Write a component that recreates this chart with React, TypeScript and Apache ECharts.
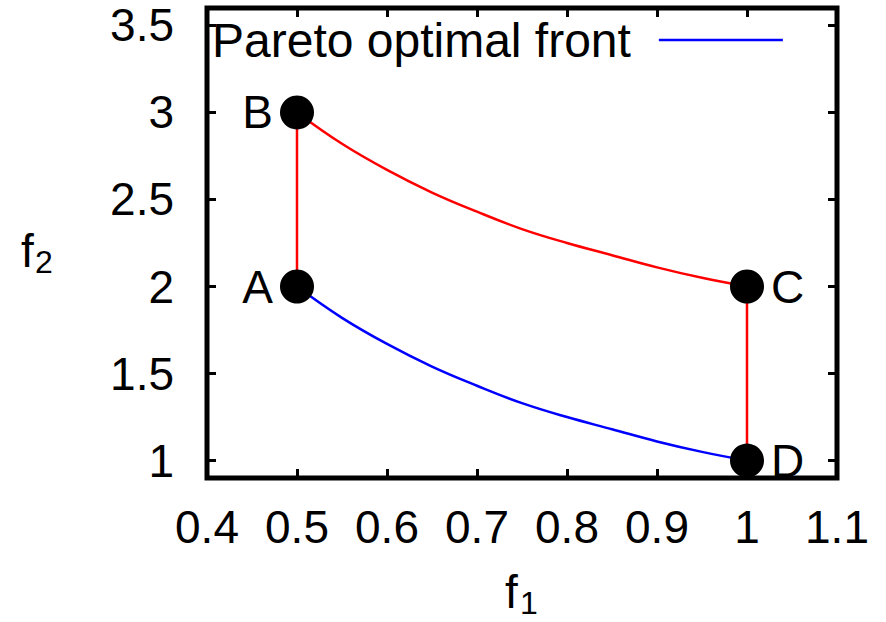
import React, { useEffect, useRef } from "react";
import * as echarts from "echarts";

// Front sample points (f1)
const frontF1 = [0.5, 0.55, 0.6, 0.65, 0.7, 0.75, 0.8, 0.85, 0.9, 0.95, 1.0];
// Pareto optimal front (blue), A -> D
const paretoF2 = [2.0, 1.82, 1.67, 1.54, 1.43, 1.33, 1.25, 1.18, 1.11, 1.05, 1.0];
// Upper boundary (red), B -> C
const upperF2 = [3.0, 2.82, 2.67, 2.54, 2.43, 2.33, 2.25, 2.18, 2.11, 2.05, 2.0];

// Labelled corner points
const pointNames = ["A", "B", "C", "D"];
const pointF1 = [0.5, 0.5, 1.0, 1.0];
const pointF2 = [2, 3, 2, 1];

// Axis ranges and ticks
const xMin = 0.4;
const xMax = 1.1;
const xStep = 0.1;
const yMin = 0.9;
const yMax = 3.6;
const yTicks = [1, 1.5, 2, 2.5, 3, 3.5];

const legendName = "Pareto optimal front";

const FONT = "'Liberation Sans', Arial, Helvetica, sans-serif";

export default function App() {
  const ref = useRef<HTMLDivElement>(null);

  useEffect(() => {
    if (!ref.current) return;
    const chart = echarts.init(ref.current, null, { renderer: "svg" });

    const pt = (n: string) => {
      const i = pointNames.indexOf(n);
      return [pointF1[i], pointF2[i]];
    };

    const tickStyle = { show: true, inside: true, length: 9, lineStyle: { color: "#000", width: 3 } };
    const labelStyle = { color: "#000", fontSize: 46, fontFamily: FONT };

    const option: any = {
      animation: false,
      backgroundColor: "#fff",
      grid: {
        left: 207,
        right: 49,
        top: 8,
        bottom: 144,
        show: true,
        borderColor: "#000",
        borderWidth: 5,
        backgroundColor: "transparent",
      },
      legend: {
        data: [legendName],
        left: 212,
        top: 16,
        padding: 0,
        align: "right",
        itemWidth: 124,
        itemHeight: 14,
        selectedMode: false,
        itemStyle: { opacity: 0 },
        lineStyle: { color: "#0000ff", width: 2.5 },
        textStyle: { color: "#000", fontSize: 48, fontFamily: FONT, lineHeight: 48, padding: [0, 23, 0, 0] },
      },
      xAxis: [
        {
          type: "value",
          min: xMin,
          max: xMax,
          interval: xStep,
          position: "bottom",
          axisLine: { show: false },
          axisTick: tickStyle,
          splitLine: { show: false },
          axisLabel: { ...labelStyle, margin: 26, lineHeight: 46, showMinLabel: true, showMaxLabel: true },
        },
        {
          type: "value",
          min: xMin,
          max: xMax,
          interval: xStep,
          position: "top",
          axisLine: { show: false },
          axisTick: tickStyle,
          splitLine: { show: false },
          axisLabel: { show: false },
        },
      ],
      yAxis: [
        {
          type: "value",
          min: yMin,
          max: yMax,
          position: "left",
          axisLine: { show: false },
          axisTick: { ...tickStyle, customValues: yTicks },
          splitLine: { show: false },
          axisLabel: { ...labelStyle, margin: 33, customValues: yTicks },
        },
        {
          type: "value",
          min: yMin,
          max: yMax,
          position: "right",
          axisLine: { show: false },
          axisTick: { ...tickStyle, customValues: yTicks },
          splitLine: { show: false },
          axisLabel: { show: false, customValues: yTicks },
        },
      ],
      graphic: [
        { type: "text", left: 21, top: 251 - 23, style: { text: "f", font: `46px ${FONT}`, fill: "#000" } },
        { type: "text", left: 35, top: 262 - 16, style: { text: "2", font: `32px ${FONT}`, fill: "#000" } },
        { type: "text", left: 505, top: 592 - 23, style: { text: "f", font: `46px ${FONT}`, fill: "#000" } },
        { type: "text", left: 520, top: 603 - 16, style: { text: "1", font: `32px ${FONT}`, fill: "#000" } },
      ],
      series: [
        {
          name: legendName,
          type: "line",
          data: frontF1.map((x, i) => [x, paretoF2[i]]),
          smooth: 0.4,
          symbol: "none",
          lineStyle: { color: "#0000ff", width: 2.5 },
          itemStyle: { color: "#0000ff" },
          z: 2,
        },
        {
          name: "upper",
          type: "line",
          data: frontF1.map((x, i) => [x, upperF2[i]]),
          smooth: 0.4,
          symbol: "none",
          lineStyle: { color: "#ff0000", width: 2.5 },
          z: 2,
        },
        {
          name: "AB",
          type: "line",
          data: [pt("A"), pt("B")],
          symbol: "none",
          lineStyle: { color: "#ff0000", width: 2.5 },
          z: 2,
        },
        {
          name: "CD",
          type: "line",
          data: [pt("C"), pt("D")],
          symbol: "none",
          lineStyle: { color: "#ff0000", width: 2.5 },
          z: 2,
        },
        {
          name: "points",
          type: "scatter",
          symbol: "circle",
          symbolSize: 34,
          itemStyle: { color: "#000", opacity: 1 },
          emphasis: { disabled: true },
          z: 3,
          data: pointNames.map((n, i) => ({
            name: n,
            value: [pointF1[i], pointF2[i]],
            label: {
              show: true,
              formatter: n,
              position: pointF1[i] < 0.75 ? "left" : "right",
              distance: 7,
              ...labelStyle,
            },
          })),
        },
      ],
    };

    chart.setOption(option);
    return () => chart.dispose();
  }, []);

  return (
    <div
      ref={ref}
      style={{ position: "fixed", left: 0, top: 0, width: 886, height: 622, background: "#fff" }}
    />
  );
}
